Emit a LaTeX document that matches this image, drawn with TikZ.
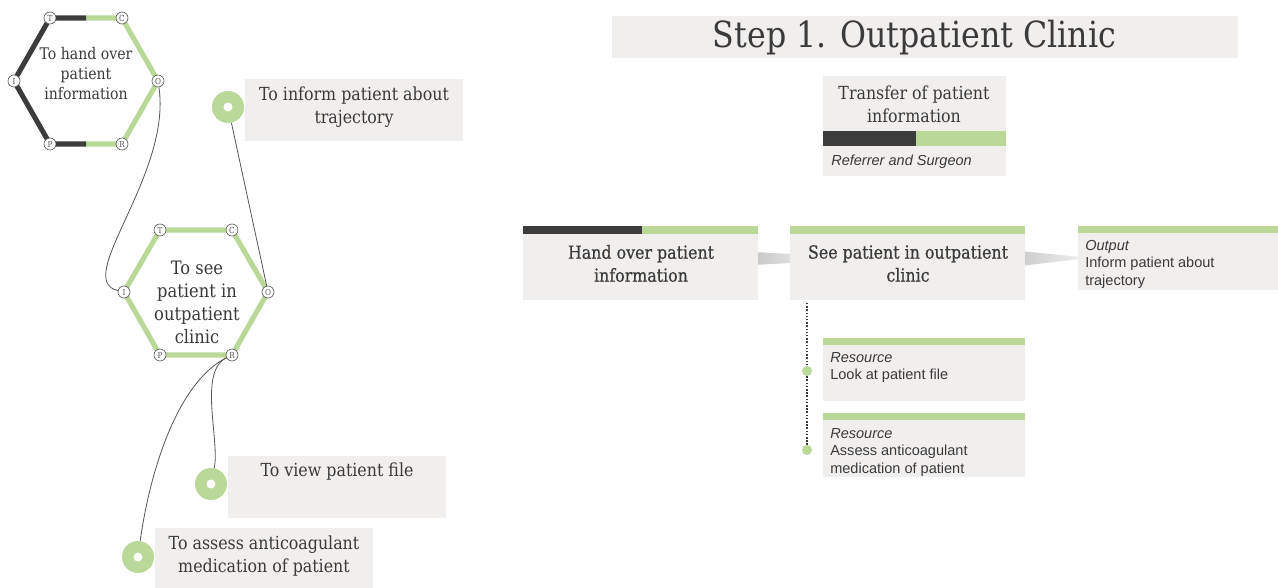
\documentclass[tikz,border=0pt]{standalone}
\usepackage{fontspec}
\setmainfont{DejaVu Serif}[FakeStretch=0.88]
\setsansfont{Liberation Sans}
\newfontfamily\slab{DejaVu Serif}[FakeStretch=0.88]
\newfontfamily\slabmed{DejaVu Serif}[FakeStretch=0.88,FakeBold=0.6]
\usetikzlibrary{calc}
\definecolor{grn}{HTML}{BAD898}
\definecolor{drk}{HTML}{3C3C3C}
\definecolor{boxbg}{HTML}{F1EFEE}
\definecolor{txt}{HTML}{3A3A3A}
\definecolor{lnk}{HTML}{555555}
\tikzset{
  hexedge/.style={line width=3.8pt},
  vtx/.style={circle, draw=lnk, fill=white, line width=0.5pt, inner sep=0pt, minimum size=9pt, font=\slab\fontsize{6.2}{6.2}\selectfont, text=lnk},
  link/.style={draw=lnk, line width=0.6pt},
  ring/.style={circle, fill=grn, minimum size=24pt, inner sep=0pt},
  gdot/.style={circle, fill=grn, minimum size=7.5pt, inner sep=0pt},
  stxt/.style={font=\slab\fontsize{13.5}{17.25}\selectfont, text=txt, align=center, inner sep=0pt},
  steptxt/.style={font=\slabmed\fontsize{13.5}{17.25}\selectfont, text=txt, align=center, inner sep=0pt},
  sstxt/.style={font=\sffamily\fontsize{10.9}{13.1}\selectfont, text=txt, align=left, inner sep=0pt, anchor=north west},
  boxfill/.style={fill=boxbg},
}
\begin{document}
\begin{tikzpicture}[x=0.75pt,y=-0.75pt]
\useasboundingbox (0,0) rectangle (1278,588);

% ---------- hexagon 1 ----------
\coordinate (a1T) at (50,18); \coordinate (a1C) at (122,18);
\coordinate (a1O) at (158,81); \coordinate (a1R) at (122,144);
\coordinate (a1P) at (50,144); \coordinate (a1I) at (14,81);
\draw[hexedge, grn] (86,18) -- (a1C) -- (a1O) -- (a1R) -- (86,144);
\draw[hexedge, drk] (86,18) -- (a1T) -- (a1I) -- (a1P) -- (86,144);
\node[stxt, font=\slab\fontsize{12}{15}\selectfont] (h1txt) at (86,74) {To hand over\\patient\\information};
\node[vtx] (h1T) at (a1T) {T};
\node[vtx] (h1C) at (a1C) {C};
\node[vtx] (h1O) at (a1O) {O};
\node[vtx] (h1R) at (a1R) {R};
\node[vtx] (h1P) at (a1P) {P};
\node[vtx] (h1I) at (a1I) {I};

% ---------- hexagon 2 ----------
\coordinate (a2T) at (160,230); \coordinate (a2C) at (232,230);
\coordinate (a2O) at (268,292); \coordinate (a2R) at (232,355);
\coordinate (a2P) at (160,355); \coordinate (a2I) at (124,292);
\draw[hexedge, grn] (a2T) -- (a2C) -- (a2O) -- (a2R) -- (a2P) -- (a2I) -- cycle;
\node[stxt, font=\slab\fontsize{13.9}{17.25}\selectfont] (h2txt) at (197,302.5) {To see\\patient in\\outpatient\\clinic};
\node[vtx] (h2T) at (a2T) {T};
\node[vtx] (h2C) at (a2C) {C};
\node[vtx] (h2O) at (a2O) {O};
\node[vtx] (h2R) at (a2R) {R};
\node[vtx] (h2P) at (a2P) {P};
\node[vtx] (h2I) at (a2I) {I};

% ---------- left text boxes with rings ----------
\fill[boxfill] (245,79) rectangle (463,141);
\node[stxt] (t1) at (354,107.5) {To inform patient about\\trajectory};
\fill[boxfill] (228,456) rectangle (446,518);
\node[stxt] (t2) at (337,472) {To view patient file};
\fill[boxfill] (155,528) rectangle (373,588);
\node[stxt] (t3) at (264,556.5) {To assess anticoagulant\\medication of patient};

\node[ring] (c1) at (228,107) {};
\fill[white] (c1.center) circle (3.4pt);
\node[ring] (c2) at (211,484) {};
\fill[white] (c2.center) circle (3.4pt);
\node[ring] (c3) at (138,557) {};
\fill[white] (c3.center) circle (3.4pt);

% ---------- connectors ----------
\draw[link] (h1O) .. controls (172,175) and (72,280) .. (h2I);
\draw[link] (c1) -- (h2O);
\draw[link] (h2R) .. controls (198,372) and (220,440) .. (c2);
\draw[link] (h2R) .. controls (178,382) and (150,470) .. (c3);

% ---------- right side ----------
\fill[boxfill] (612,16) rectangle (1238,58);
\node[stxt, font=\slab\fontsize{27}{30}\selectfont] (title) at (914.5,38) {Step 1. Outpatient Clinic};

\fill[boxfill] (823,76) rectangle (1006,176);
\node[stxt] (tr) at (914,104.5) {Transfer of patient\\information};
\fill[drk] (823,131) rectangle (916,146);
\fill[grn] (916,131) rectangle (1006,146);
\node[font=\sffamily\itshape\fontsize{10.9}{13.1}\selectfont, text=txt, inner sep=0pt, anchor=west] (who) at (831,162) {Referrer and Surgeon};

% flow wedges
\shade[left color=gray!45, right color=gray!25] (752,252) -- (792,254) -- (792,263) -- (752,265) -- cycle;
\shade[left color=gray!40, right color=gray!15] (1020,251) -- (1080,257) -- (1080,259) -- (1020,266) -- cycle;

% step 1
\fill[boxfill] (523,234) rectangle (758,300);
\fill[drk] (523,226) rectangle (642,234);
\fill[grn] (642,226) rectangle (758,234);
\node[steptxt] (s1) at (641,263.5) {Hand over patient\\information};
% step 2
\fill[boxfill] (790,234) rectangle (1025,300);
\fill[grn] (790,226) rectangle (1025,234);
\node[steptxt] (s2) at (908,263.5) {See patient in outpatient\\clinic};
% output
\fill[boxfill] (1078,233) rectangle (1278,290);
\fill[grn] (1078,226) rectangle (1278,233);
\node[sstxt] (out) at (1085,240) {\textit{Output}\\Inform patient about\\trajectory};

% resources
\fill[boxfill] (823,345) rectangle (1025,401);
\fill[grn] (823,338) rectangle (1025,345);
\node[sstxt] (r1) at (830,352) {\textit{Resource}\\Look at patient file};
\fill[boxfill] (823,420) rectangle (1025,477);
\fill[grn] (823,413) rectangle (1025,420);
\node[sstxt] (r2) at (830,428) {\textit{Resource}\\Assess anticoagulant\\medication of patient};

\coordinate (dtop) at (807,303);
\node[gdot] (d1) at (807,371) {};
\node[gdot] (d2) at (807,450) {};
\draw[drk, line width=1.1pt, dash pattern=on 1.1pt off 1.3pt] (dtop) -- (d1) -- (d2);
\end{tikzpicture}
\end{document}
